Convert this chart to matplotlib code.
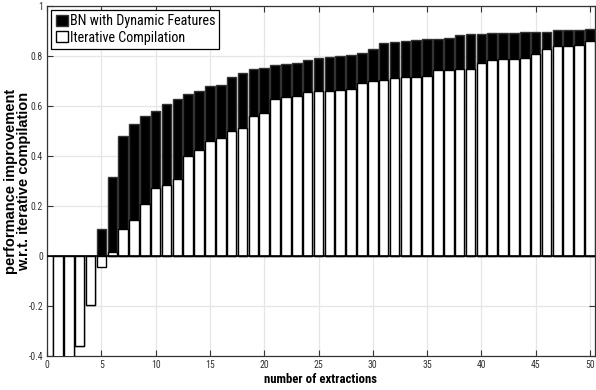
import matplotlib
matplotlib.use("Agg")
import matplotlib.pyplot as plt
from matplotlib import font_manager
from matplotlib.font_manager import FontProperties

# number of extractions 1..50
extractions = list(range(1, 51))

# BN with Dynamic Features (black bars)
bn_dynamic = [-0.45, -0.45, -0.36, -0.195, 0.107, 0.317, 0.481, 0.527, 0.561, 0.580,
              0.606, 0.627, 0.648, 0.659, 0.678, 0.684, 0.715, 0.733, 0.747, 0.753,
              0.764, 0.768, 0.771, 0.785, 0.792, 0.796, 0.799, 0.804, 0.813, 0.828,
              0.852, 0.855, 0.860, 0.863, 0.867, 0.868, 0.871, 0.885, 0.888, 0.888,
              0.891, 0.892, 0.893, 0.895, 0.896, 0.897, 0.903, 0.904, 0.905, 0.907]

# Iterative Compilation (white bars)
iterative = [-0.45, -0.45, -0.36, -0.195, -0.044, 0.017, 0.108, 0.144, 0.207, 0.271,
             0.285, 0.308, 0.400, 0.424, 0.461, 0.471, 0.499, 0.511, 0.559, 0.571,
             0.629, 0.635, 0.640, 0.657, 0.659, 0.661, 0.665, 0.669, 0.691, 0.701,
             0.703, 0.710, 0.715, 0.717, 0.721, 0.743, 0.745, 0.749, 0.749, 0.772,
             0.784, 0.787, 0.789, 0.791, 0.809, 0.828, 0.840, 0.841, 0.844, 0.861]

xticks = list(range(0, 51, 5))
yticks = [-0.4, -0.2, 0, 0.2, 0.4, 0.6, 0.8, 1]
ytick_labels = ['-0.4', '-0.2', '0', '0.2', '0.4', '0.6', '0.8', '1']

# original text is a condensed Helvetica; pick the narrowest face we have
entries = font_manager.fontManager.ttflist
names = {f.name for f in entries}
def has_cond(name):
    return any(f.name == name and 'condensed' in str(f.stretch) for f in entries)
narrow = None
for nm in ['Liberation Sans Narrow', 'Roboto Condensed', 'Open Sans Condensed', 'Noto Sans Condensed']:
    if nm in names:
        narrow = dict(family=nm)
        break
if narrow is None:
    for nm in ['Noto Sans', 'Roboto', 'Open Sans', 'DejaVu Sans']:
        if has_cond(nm):
            narrow = dict(family=nm, stretch='condensed')
            break
if narrow is None:
    narrow = dict(family='Liberation Sans')

fig = plt.figure(figsize=(5.96, 3.90), dpi=100)
renderer = fig.canvas.get_renderer()

def fit(s, target_px, **kw):
    # font size (pt) that makes s about target_px wide
    t = fig.text(0, 0, s, fontproperties=FontProperties(size=10, **kw))
    w = t.get_window_extent(renderer).width
    t.remove()
    return 10 * target_px / w

ax = fig.add_axes([0.079, 0.087, 0.919, 0.898])

ax.bar(extractions, bn_dynamic, width=0.87, color='black', edgecolor='#333333',
       linewidth=1.0, label='BN with Dynamic Features', zorder=2)
ax.bar(extractions, iterative, width=0.87, color='white', edgecolor='black',
       linewidth=1.0, label='Iterative Compilation', zorder=3)
ax.axhline(0, color='black', linewidth=1.2, zorder=4)

ax.set_xlim(0, 50.45)
ax.set_ylim(-0.4, 1)
ax.set_xticks(xticks)
ax.set_yticks(yticks)
ax.set_yticklabels(ytick_labels)
ax.grid(True, color='#e6e6e6', linewidth=0.9)
ax.set_axisbelow(True)

tick_fs = max(7.0, fit('-0.4', 14, **narrow))
ax.tick_params(direction='in', top=True, right=True, length=4, width=0.8,
               colors='#333333', pad=3)
for lab in ax.get_xticklabels() + ax.get_yticklabels():
    lab.set_fontproperties(FontProperties(size=tick_fs, **narrow))
for s in ax.spines.values():
    s.set_color('#333333')
    s.set_linewidth(0.9)

xl_fs = max(8.5, fit('number of extractions', 112, weight='bold', **narrow))
ax.set_xlabel('number of extractions', fontproperties=FontProperties(size=xl_fs, weight='bold', **narrow),
              labelpad=2)
ax.set_ylabel('performance improvement\nw.r.t. iterative compilation', fontsize=10.5,
              fontweight='bold', family='Liberation Sans', linespacing=0.85)
ax.yaxis.set_label_coords(-0.03, 0.5)

leg_fs = fit('BN with Dynamic Features', 146, **narrow)
fs_px = leg_fs * 100 / 72
leg = ax.legend(loc='upper left', frameon=True, fancybox=False,
                prop=FontProperties(size=leg_fs, **narrow),
                edgecolor='black', framealpha=1, borderpad=0.3,
                labelspacing=max(0.1, (19 - 1.17 * fs_px) / fs_px),
                handlelength=12 / fs_px, handleheight=12 / fs_px, handletextpad=0.15,
                borderaxespad=0.3)
leg.get_frame().set_linewidth(0.9)

fig.savefig('out.png', dpi=100)
